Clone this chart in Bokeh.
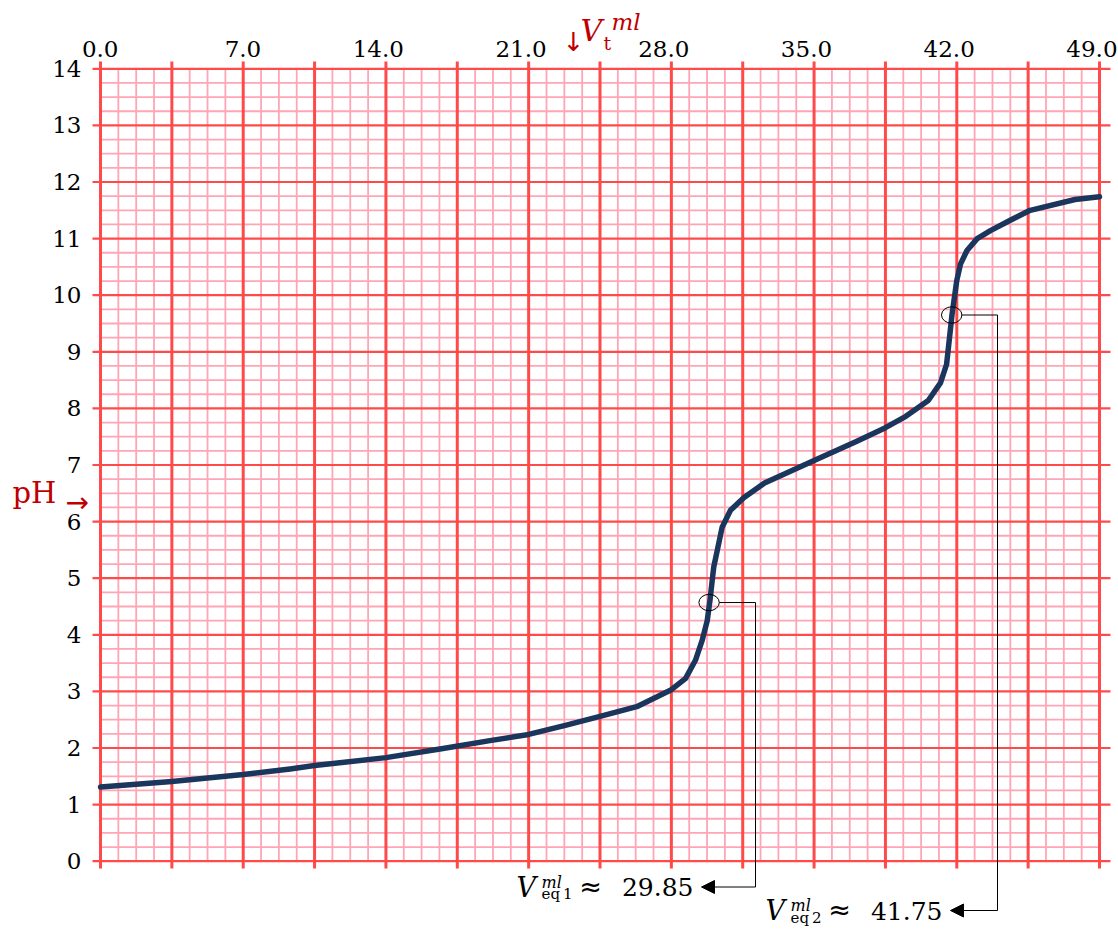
import numpy as np
from bokeh.plotting import figure
from bokeh.models import Range1d, Arrow, NormalHead
from bokeh.embed import file_html
from bokeh.resources import INLINE
from bokeh.core.properties import value

# ---------------- data ----------------
VOLUME_ML = [0.0, 3.5, 7.0, 9.3, 10.5, 14.0, 16.8, 19.1, 21.0, 22.8, 24.5, 26.3,
             28.0, 28.7, 29.18, 29.51, 29.76, 29.89, 30.0, 30.08, 30.25, 30.49,
             30.9, 31.55, 32.57, 35.0, 37.1, 38.5, 39.5, 40.6, 41.2, 41.5,
             41.77, 42.0, 42.18, 42.5, 43.0, 43.65, 44.6, 45.6, 47.8, 49.0]
PH_VALUES = [1.31, 1.41, 1.53, 1.63, 1.69, 1.83, 1.99, 2.13, 2.24, 2.40, 2.56, 2.73,
             3.03, 3.23, 3.55, 3.90, 4.25, 4.60, 4.95, 5.20, 5.49, 5.90,
             6.20, 6.42, 6.68, 7.08, 7.42, 7.66, 7.86, 8.14, 8.45, 8.78,
             9.67, 10.26, 10.55, 10.79, 11.00, 11.14, 11.32, 11.50, 11.69, 11.74]

X_TICKS = [0, 7, 14, 21, 28, 35, 42, 49]
X_TICK_LABELS = ["0.0", "7.0", "14.0", "21.0", "28.0", "35.0", "42.0", "49.0"]
Y_TICKS = list(range(0, 15))
Y_TICK_LABELS = [str(v) for v in Y_TICKS]

EQ_VOLUMES = [29.85, 41.75]
EQ_PH = [4.57, 9.65]
EQ_LABELS = ["29.85", "41.75"]
EQ_SUBS = ["eq\u20091", "eq\u20092"]

# ---------------- layout constants ----------------
W, H = 1118, 929
PX_X = 20.388   # px per ml
PX_Y = 56.6     # px per pH unit
ORIGIN_X, ORIGIN_Y = 100.0, 860.7   # page px of (0 ml, pH 0)


def py(page_y):
    """page pixel row -> data y"""
    return (ORIGIN_Y - page_y) / PX_Y


def px(page_x):
    """page pixel column -> data x"""
    return (page_x - ORIGIN_X) / PX_X


X0, X1 = px(0), px(W)
Y0, Y1 = py(H), py(0)

MAJOR_RED = "#FF4A4A"
MINOR_PINK = "#FFA6B6"
TITLE_RED = "#C00000"
CURVE = "#1B365D"
SERIF = "DejaVu Serif"
SANS = "DejaVu Sans"

p = figure(width=W, height=H, x_range=Range1d(X0, X1), y_range=Range1d(Y0, Y1),
           output_backend="svg", toolbar_location=None, x_axis_location=None,
           y_axis_location=None, min_border=0, min_border_left=0, min_border_right=0,
           min_border_top=0, min_border_bottom=0, outline_line_color=None,
           background_fill_color="white", border_fill_color="white")
p.grid.visible = False

# ---------------- graph paper grid ----------------
major_x = np.arange(0, 49 + 1e-9, 3.5)
minor_x = [v for v in np.arange(0, 49 + 1e-9, 0.875) if abs(v / 3.5 - round(v / 3.5)) > 1e-6]
major_y = np.arange(0, 14 + 1e-9, 1.0)
minor_y = [v for v in np.arange(0, 14 + 1e-9, 0.25) if abs(v - round(v)) > 1e-6]

p.segment(x0=minor_x, y0=0, x1=minor_x, y1=14, line_color=MINOR_PINK, line_width=1.8)
p.segment(x0=0, y0=minor_y, x1=49, y1=minor_y, line_color=MINOR_PINK, line_width=1.8)
p.segment(x0=px(92), y0=major_y, x1=px(1110), y1=major_y, line_color=MAJOR_RED, line_width=2.2)
p.segment(x0=major_x, y0=py(868), x1=major_x, y1=py(61), line_color=MAJOR_RED, line_width=3)

# ---------------- tick labels ----------------
p.text(x=X_TICKS, y=py(48), text=X_TICK_LABELS, x_offset=18, text_align="right",
       text_baseline="alphabetic", text_font=value(SERIF), text_font_size="23px",
       text_color="black")
p.text(x=px(81), y=Y_TICKS, text=Y_TICK_LABELS, text_align="right",
       text_baseline="middle", text_font=value(SERIF), text_font_size="23px",
       text_color="black")

# ---------------- titration curve ----------------
p.line(VOLUME_ML, PH_VALUES, line_color=CURVE, line_width=5.5, line_join="round",
       line_cap="round")

# ---------------- equivalence annotations ----------------
p.ellipse(x=EQ_VOLUMES, y=EQ_PH, width=1.0, height=0.29, fill_color=None,
          line_color="black", line_width=1)

CONN_X = [px(755), px(997)]
ROW_Y = [py(886.5), py(910)]
TIP_X = [px(701), px(950)]
for i in range(2):
    p.line([EQ_VOLUMES[i] + 0.5, CONN_X[i], CONN_X[i]], [EQ_PH[i], EQ_PH[i], ROW_Y[i]],
           line_color="black", line_width=1)
    p.add_layout(Arrow(end=NormalHead(size=13, fill_color="black", line_color="black"),
                       x_start=CONN_X[i], y_start=ROW_Y[i], x_end=TIP_X[i], y_end=ROW_Y[i],
                       line_color="black", line_width=1))

p.text(x=TIP_X, y=ROW_Y, text=EQ_LABELS, x_offset=-8, y_offset=0, text_align="right",
       text_baseline="alphabetic", text_font=value(SERIF), text_font_size="25px",
       text_color="black")
p.text(x=TIP_X, y=ROW_Y, text=["\u2248", "\u2248"], x_offset=-111, y_offset=-1,
       text_align="center", text_baseline="alphabetic", text_font=value(SANS),
       text_font_size="27px", text_color="black")
p.text(x=TIP_X, y=ROW_Y, text=["V", "V"], x_offset=-185, y_offset=0,
       text_align="left", text_baseline="alphabetic", text_font=value(SERIF),
       text_font_style="italic", text_font_size="27px", text_color="black")
p.text(x=TIP_X, y=ROW_Y, text=["ml", "ml"], x_offset=-160, y_offset=-5,
       text_align="left", text_baseline="alphabetic", text_font=value(SERIF),
       text_font_style="italic", text_font_size="16px", text_color="black")
p.text(x=TIP_X, y=ROW_Y, text=EQ_SUBS, x_offset=-160, y_offset=7,
       text_align="left", text_baseline="alphabetic", text_font=value(SERIF),
       text_font_size="15px", text_color="black")

# ---------------- axis titles ----------------
p.text(x=px(573), y=py(41), text=["\u2193"], text_align="center",
       text_baseline="alphabetic", text_font=value(SANS), text_font_size="26px",
       text_color=TITLE_RED)
p.text(x=px(580), y=py(30), text=["V"], text_align="left",
       text_baseline="alphabetic", text_font=value(SERIF), text_font_style="italic",
       text_font_size="30px", text_color=TITLE_RED)
p.text(x=px(603), y=py(42), text=["t"], text_align="left",
       text_baseline="alphabetic", text_font=value(SERIF), text_font_size="19px",
       text_color=TITLE_RED)
p.text(x=px(611), y=py(21), text=["ml"], text_align="left",
       text_baseline="alphabetic", text_font=value(SERIF), text_font_style="italic",
       text_font_size="23px", text_color=TITLE_RED)

p.text(x=px(12), y=py(492), text=["pH"], text_align="left",
       text_baseline="alphabetic", text_font=value(SERIF), text_font_size="29px",
       text_color=TITLE_RED)
p.text(x=px(65), y=py(502), text=["\u2192"], text_align="left",
       text_baseline="alphabetic", text_font=value(SANS), text_font_size="28px",
       text_color=TITLE_RED)

open("out.html", "w").write(file_html(p, INLINE))
